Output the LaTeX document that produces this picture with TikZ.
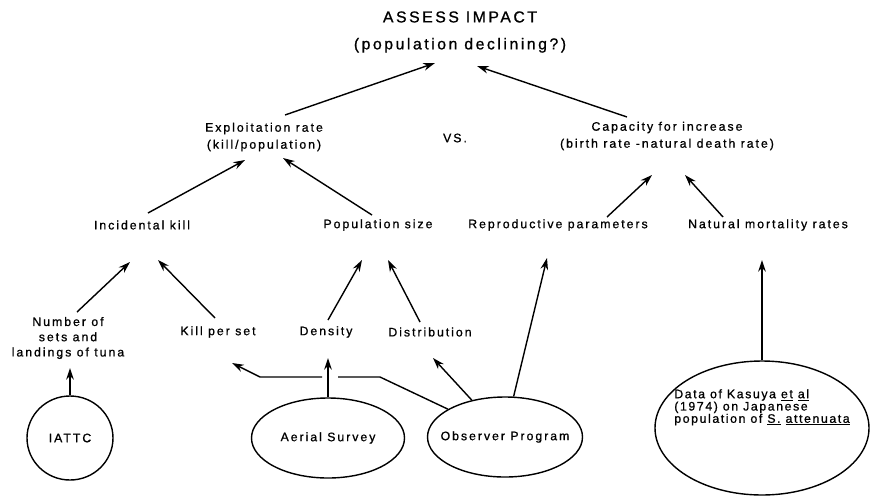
\documentclass[tikz,border=0pt]{standalone}
\usepackage{fontspec}
\setmainfont{Liberation Sans}[LetterSpace=16, FakeBold=0.9]
\newfontfamily\datafont{Liberation Sans}[LetterSpace=13, FakeBold=0.9]
\usetikzlibrary{shapes.geometric, arrows, arrows.meta, calc}
\tikzstyle{head} = [align=center, inner sep=0pt, font=\fontsize{13.5}{23}\selectfont]
\tikzstyle{txt} = [align=center, inner sep=0pt, font=\fontsize{10.5}{14.5}\selectfont]
\tikzstyle{source} = [ellipse, draw=black, line width=1.2pt, inner ysep=0pt, inner xsep=-12pt, font=\fontsize{10.5}{10.5}\selectfont]
\tikzstyle{arrow} = [line width=1.2pt,->,>={Stealth[length=10pt,width=6.5pt]}]

\begin{document}
\begin{tikzpicture}[x=0.03cm, y=-0.03cm]
	\useasboundingbox (0,0) rectangle (870,497);
	\node (impact) [head] at (460,32) {ASSESS IMPACT\\(population declining?)};
	\node (expl) [txt] at (264,137) {Exploitation rate\\(kill/population)};
	\node (vs) [txt] at (455,138) {VS.};
	\node (cap) [txt] at (667,136) {Capacity for increase\\(birth rate -natural death rate)};
	\node (inc) [txt] at (142,225) {Incidental kill};
	\node (popsize) [txt] at (378,225) {Population size};
	\node (repro) [txt] at (558,225) {Reproductive parameters};
	\node (natmort) [txt] at (768,225) {Natural mortality rates};
	\node (num) [txt, font=\fontsize{10.5}{13}\selectfont] at (68,338) {Number of\\sets and\\landings of tuna};
	\node (kps) [txt] at (218,332) {Kill per set};
	\node (dens) [txt] at (326,332) {Density};
	\node (distr) [txt] at (430,332) {Distribution};
	% sources of data
	\node (iattc) [source, minimum width=86*0.03cm, minimum height=84*0.03cm] at (70,438) {IATTC};
	\node (aerial) [source, minimum width=153*0.03cm, minimum height=80*0.03cm] at (328,438) {Aerial Survey\\[6pt]\mbox{}};
	\node (observer) [source, minimum width=155*0.03cm, minimum height=80*0.03cm] at (505,437) {Observer Program\\[6pt]\mbox{}};
	\node (data) [source, align=left, inner xsep=-22pt, font=\datafont\fontsize{10.5}{10.5}\selectfont, minimum width=214*0.03cm, minimum height=134*0.03cm] at (762,428) {Data of Kasuya \underline{et} \underline{al}\\(1974) on Japanese\\population of \underline{S.} \underline{attenuata}\\[27pt]\mbox{}};

	\draw [arrow] ($(expl)+(21,-22)$) -- ($(impact)+(-25,31)$);
	\draw [arrow] ($(cap)+(-40,-19)$) -- ($(impact)+(17,34)$);
	\draw [arrow] ($(inc)+(6,-12)$) -- ($(expl)+(-19,23)$);
	\draw [arrow] ($(popsize)+(-6,-10)$) -- ($(expl)+(19,21)$);
	\draw [arrow] ($(repro)+(49,-8)$) -- ($(cap)+(-15,39)$);
	\draw [arrow] ($(natmort)+(-45,-8)$) -- ($(cap)+(18,39)$);
	\draw [arrow] ($(num)+(9,-26)$) -- ($(inc)+(-12,37)$);
	\draw [arrow] ($(kps)+(-3,-14)$) -- ($(inc)+(16,35)$);
	\draw [arrow] ($(dens)+(2,-12)$) -- ($(popsize)+(-16,35)$);
	\draw [arrow] ($(distr)+(-10,-10)$) -- ($(popsize)+(10,35)$);
	\draw [arrow] (iattc.north) -- ($(num)+(2,30)$);
	\draw [arrow] (aerial.north) -- ($(dens)+(2,26)$);
	\draw [arrow] (observer.154) -- ($(aerial)+(52,-61)$) -- ($(aerial)+(10,-61)$)
		($(aerial)+(-6,-61)$) -- ($(aerial)+(-68,-61)$) -- ($(kps)+(14,31)$);
	\draw [arrow] (observer.132) -- ($(distr)+(3,26)$);
	\draw [arrow] (observer.78) -- ($(repro)+(-11,33)$);
	\draw [arrow] (data.north) -- ($(natmort)+(-6,35)$);
\end{tikzpicture}
\end{document}
